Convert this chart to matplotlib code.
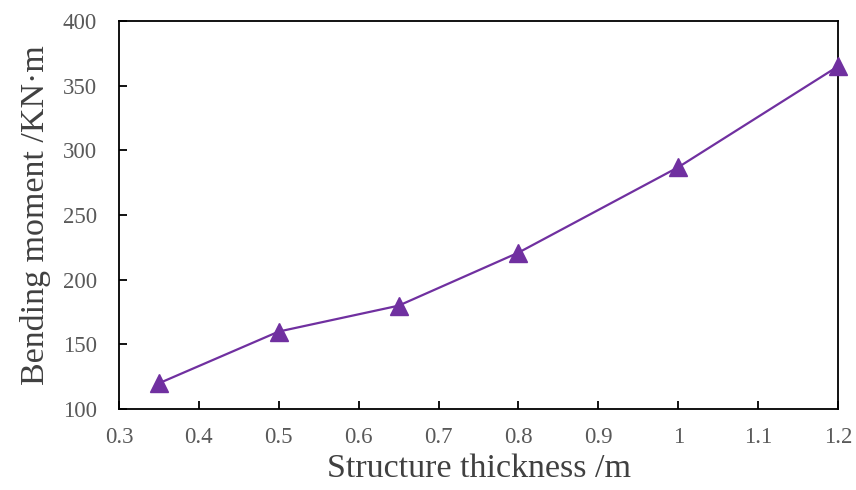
import matplotlib.pyplot as plt

# data
thickness = [0.35, 0.5, 0.65, 0.8, 1.0, 1.2]
moment = [120, 160, 180, 221, 287, 365]
xticks = [0.3, 0.4, 0.5, 0.6, 0.7, 0.8, 0.9, 1.0, 1.1, 1.2]
xticklabels = ["0.3", "0.4", "0.5", "0.6", "0.7", "0.8", "0.9", "1", "1.1", "1.2"]
yticks = [100, 150, 200, 250, 300, 350, 400]

plt.rcParams['font.family'] = ['Liberation Serif', 'DejaVu Serif']

fig = plt.figure(figsize=(8.56, 4.90), dpi=100)
ax = fig.add_axes([0.139, 0.165, 0.840, 0.792])

ax.plot(thickness, moment, color="#7030A0", linewidth=1.6,
        marker="^", markersize=13, clip_on=False, zorder=3)

ax.set_xlim(0.3, 1.2)
ax.set_ylim(100, 400)
ax.set_xticks(xticks)
ax.set_xticklabels(xticklabels)
ax.set_yticks(yticks)

ax.tick_params(direction="in", length=6, width=1.3, labelsize=16.5,
               labelcolor="#595959", top=False, right=False)
ax.tick_params(axis="x", pad=13)
ax.tick_params(axis="y", pad=16)
for s in ax.spines.values():
    s.set_linewidth(1.3)
    s.set_color("#000000")

ax.set_xlabel("Structure thickness /m", fontsize=24.5, color="#404040", labelpad=4)
ax.set_ylabel("Bending moment /KN·m", fontsize=24.5, color="#404040", labelpad=8)

fig.savefig("out.png", dpi=100)
